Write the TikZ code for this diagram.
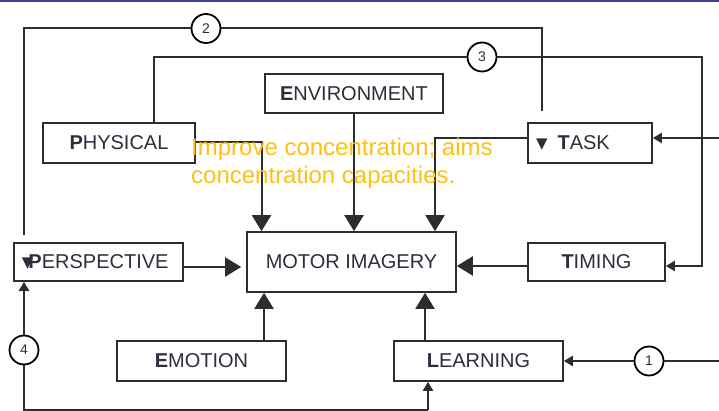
\documentclass[tikz,border=0pt]{standalone}
\usepackage{fontspec}
\setmainfont{Liberation Sans}
\newfontfamily\symfont{DejaVu Sans}
\usetikzlibrary{arrows.meta}
\definecolor{linegray}{RGB}{45,45,45}
\definecolor{labelnavy}{RGB}{45,45,60}
\definecolor{noteyellow}{RGB}{255,192,20}
\definecolor{frameblue}{RGB}{60,60,165}
\newcommand{\tri}{{\symfont\fontsize{15}{15}\selectfont\raisebox{1pt}{▼}}}

\begin{document}
\begin{tikzpicture}[x=1pt,y=-1pt,
  every node/.style={font=\fontsize{20}{24}\selectfont, text=labelnavy},
  factor/.style={draw=linegray, line width=1.6pt, fill=white,
    minimum height=40pt, inner sep=0pt},
  tag/.style={circle, draw=black, line width=1.8pt, fill=white,
    minimum size=29pt, inner sep=0pt, font=\fontsize{14}{14}\selectfont},
  link/.style={draw=linegray, line width=2pt},
  big/.style={link, -{Triangle[length=16pt,width=19pt]}},
  small/.style={link, -{Triangle[length=9pt,width=10pt]}},
]
\useasboundingbox (0,0) rectangle (719,411);
\fill[frameblue] (0,0) rectangle (719,2.5);

\node[factor, minimum width=152pt] at (119,143)   (physical)    {\textbf{P}HYSICAL};
\node[factor, minimum width=178pt, minimum height=39pt] at (354,93.5) (environment) {\textbf{E}NVIRONMENT};
\node[factor, minimum width=124pt, text width=108pt, align=left, inner xsep=8pt] at (590,143) (task) {\tri\hspace{10pt}\textbf{T}ASK};

\node[factor, minimum width=169pt, minimum height=38pt] at (98.5,262) (perspective) {\llap{\tri\kern-5pt}\textbf{P}ERSPECTIVE};
\node[factor, minimum width=209pt, minimum height=60pt] at (351.5,262) (motor) {MOTOR IMAGERY};
\node[factor, minimum width=137pt, minimum height=38pt] at (596.5,262) (timing) {\textbf{T}IMING};

\node[factor, minimum width=169pt] at (201.5,361) (emotion)  {\textbf{E}MOTION};
\node[factor, minimum width=169pt] at (478.5,361) (learning) {\textbf{L}EARNING};

\node[tag] at (206,28.5)  (c2) {2};
\node[tag] at (482,57)    (c3) {3};
\node[tag] at (649,361)   (c1) {1};
\node[tag] at (24,350)    (c4) {4};

\coordinate (t2) at (542,111);
\coordinate (p2) at (24,235);
\coordinate (r3) at (702,57);
\coordinate (inT) at (719,138);
\coordinate (in1) at (719,361);
\coordinate (b4) at (428,410);

% into motor imagery
\draw[big] ([yshift=1pt]physical.east) -| ([xshift=-90pt]motor.north);
\draw[big] (environment.south) -- (environment.south |- motor.north);
\draw[big] ([yshift=5pt]task.west) -| ([xshift=83.5pt]motor.north);
\draw[big] ([yshift=-5pt]perspective.east) -- ([xshift=-5pt,yshift=-5pt]motor.west);
\draw[big] ([yshift=-4pt]timing.west) -- ([yshift=-4pt]motor.east);
\draw[big] ([xshift=62.5pt]emotion.north) -- ([xshift=62.5pt]emotion.north |- motor.south);
\draw[big] ([xshift=-53.5pt]learning.north) -- ([xshift=-53.5pt]learning.north |- motor.south);

% feedback loops
\draw[link] (t2) |- (c2) -| (p2);
\draw[small] ([xshift=35pt]physical.north) |- (c3) -- (r3) |- ([yshift=-4pt]timing.east);
\draw[small] (inT) -- (inT -| task.east);
\draw[link] (in1) -- (c1);
\draw[small] (c1) -- (c1 -| learning.east);
\draw[small] (c4) -- (c4 |- perspective.south);
\draw[link] (c4) |- (b4);
\draw[small] (b4) -- (b4 |- learning.south);

\node[anchor=north west, align=left, inner sep=0pt, text=noteyellow,
  font=\fontsize{24}{28}\selectfont] at (191,138) (note)
  {Improve concentration; aims\\concentration capacities.};
\end{tikzpicture}
\end{document}
